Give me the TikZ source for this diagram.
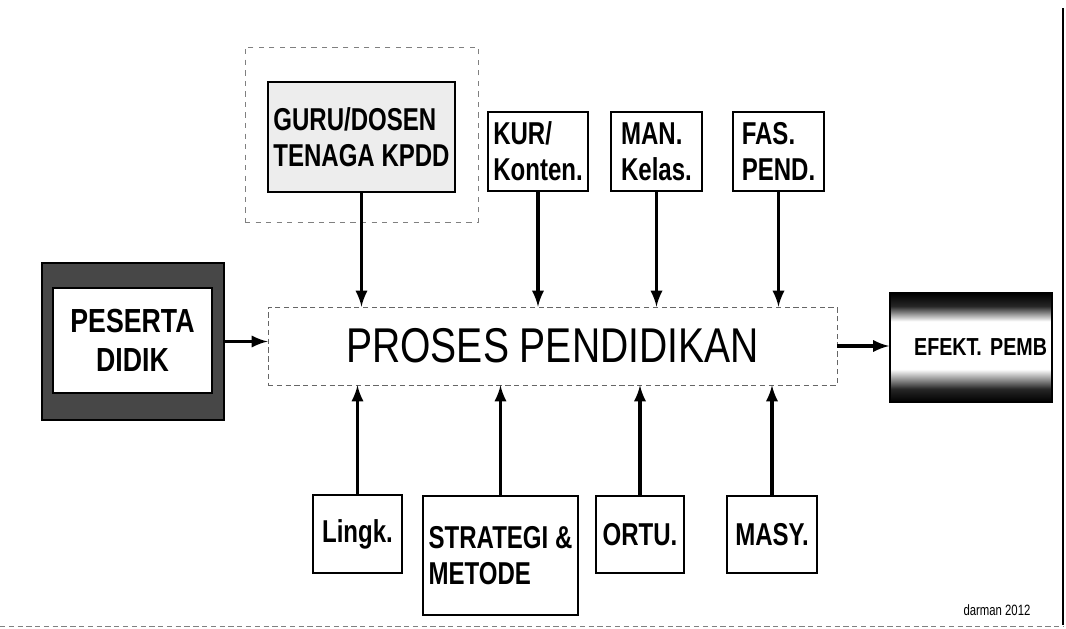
\documentclass[tikz,border=0pt]{standalone}
\usepackage{fontspec}
\newfontfamily\lblfont[FakeStretch=0.76]{Liberation Sans}
\newfontfamily\bigfont[FakeStretch=0.8]{Liberation Sans}
\usetikzlibrary{calc}
\pgfdeclareverticalshading{efektshade}{100bp}{color(0bp)=(black); color(25bp)=(black); color(31bp)=(black!85); color(40bp)=(white); color(62bp)=(white); color(69bp)=(black!85); color(75bp)=(black); color(100bp)=(black)}

\begin{document}
\begin{tikzpicture}[x=0.02cm,y=-0.02cm,
  box/.style={draw,line width=1.2pt,inner sep=3pt,align=left,font=\lblfont\bfseries\fontsize{18}{20.5}\selectfont},
  arr/.style={line width=2.1pt,-latex}]
  \useasboundingbox (0,0) rectangle (1066,629);
  \fill[white] (0,0) rectangle (1066,629);
  \draw[line width=1.2pt] (1063,8) -- (1063,625);
  \draw[gray,densely dashed] (0,626) -- (1063,626);

  % centre
  \node[draw=black!60,densely dashed,minimum width=11.38cm,minimum height=1.56cm,font=\bigfont\fontsize{27.8}{30}\selectfont] (proses) at (552.5,346) {PROSES PENDIDIKAN};

  % left and right
  \node[draw,line width=1pt,fill=black!72,minimum width=3.64cm,minimum height=3.14cm] (pesertabg) at (133,341.5) {};
  \node[box,fill=white,line width=0.6pt,align=center,minimum width=3.18cm,minimum height=2.1cm,
        font=\bigfont\bfseries\fontsize{19}{22}\selectfont] (peserta) at (132.5,340.5) {PESERTA\\DIDIK};
  \node[draw,line width=1pt,shading=efektshade,
        minimum height=2.18cm,text width=3.04cm,inner sep=0.1cm,align=right,
        font=\bigfont\bfseries\fontsize{14}{16}\selectfont] (efekt) at (971,347.5) {EFEKT. PEMB};

  % top
  \node[draw=gray,dashed,thin,minimum width=4.66cm,minimum height=3.5cm] (gurubg) at (361.5,134.5) {};
  \node[box,fill=gray!14,minimum width=3.66cm,minimum height=2.2cm] (guru) at (361.5,137) {GURU/DOSEN\\TENAGA KPDD};
  \node[box,minimum width=1.84cm,minimum height=1.58cm] (kur) at (538,151.5) {KUR/\\Konten.};
  \node[box,minimum width=1.82cm,minimum height=1.58cm] (man) at (656.5,151.5) {MAN.\\Kelas.};
  \node[box,minimum width=1.82cm,minimum height=1.58cm] (fas) at (778.5,151.5) {FAS.\\PEND.};

  % bottom
  \node[box,minimum width=1.78cm,minimum height=1.56cm] (lingk) at (357.5,534) {Lingk.};
  \node[box,minimum width=3.1cm,minimum height=2.38cm] (strategi) at (500.5,555.5) {STRATEGI \&\\METODE};
  \node[box,minimum width=1.76cm,minimum height=1.54cm] (ortu) at (640,534.5) {ORTU.};
  \node[box,minimum width=1.8cm,minimum height=1.54cm] (masy) at (772,534.5) {MASY.};

  \node[font=\lblfont\fontsize{8.5}{9}\selectfont] (sign) at (997,610) {darman 2012};

  \draw[arr] (pesertabg.east) -- (pesertabg.east -| proses.west);
  \draw[arr] (proses.east) -- (proses.east -| efekt.west);

  \draw[arr] (guru.south) -- (guru.south |- proses.north);
  \draw[arr] (kur.south) -- (kur.south |- proses.north);
  \draw[arr] (man.south) -- (man.south |- proses.north);
  \draw[arr] (fas.south) -- (fas.south |- proses.north);

  \draw[arr] (lingk.north) -- (lingk.north |- proses.south);
  \draw[arr] (strategi.north) -- (strategi.north |- proses.south);
  \draw[arr] (ortu.north) -- (ortu.north |- proses.south);
  \draw[arr] (masy.north) -- (masy.north |- proses.south);
\end{tikzpicture}
\end{document}
